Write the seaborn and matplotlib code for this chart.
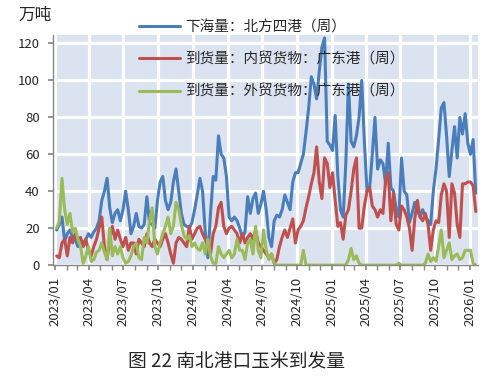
import pandas as pd
import matplotlib
matplotlib.use('Agg')
import matplotlib.pyplot as plt
import matplotlib.dates as mdates
import seaborn as sns

# weekly data, 2023-01 .. 2026-01 (万吨)
dates = pd.date_range('2023-01-06', periods=159, freq='7D')

north_ship = [
    19, 22, 26, 13, 17, 19, 15, 14, 10, 12,
    12, 14, 17, 15, 18, 20, 24, 35, 40, 47,
    31, 23, 28, 30, 24, 30, 40, 30, 17, 21,
    28, 21, 20, 22, 37, 23, 22, 20, 35, 45,
    48, 35, 30, 34, 45, 52, 40, 28, 22, 21,
    20, 23, 30, 38, 47, 40, 18, 4, 28, 48,
    46, 70, 60, 58, 48, 26, 24, 26, 24, 20,
    15, 18, 37, 28, 36, 39, 28, 33, 40, 30,
    15, 10, 24, 27, 26, 30, 38, 34, 30, 45,
    50, 50, 55, 60, 72, 85, 102, 98, 90, 105,
    118, 123, 67, 65, 62, 81, 48, 30, 26, 55,
    98, 67, 64, 70, 80, 100, 67, 40, 42, 60,
    80, 52, 57, 55, 44, 66, 42, 40, 30, 26,
    58, 40, 38, 23, 28, 34, 30, 26, 30, 26,
    24, 22, 40, 52, 68, 85, 88, 70, 48, 62,
    75, 58, 80, 71, 82, 66, 60, 68, 39,
]

gd_domestic = [
    5, 4, 12, 14, 5, 15, 12, 17, 14, 15,
    10, 14, 8, 5, 10, 14, 20, 26, 10, 3,
    14, 21, 14, 19, 14, 10, 15, 8, 12, 12,
    6, 14, 12, 10, 17, 12, 10, 14, 12, 10,
    14, 17, 12, 6, 1, 12, 15, 14, 12, 10,
    21, 14, 17, 20, 21, 17, 14, 10, 6, 17,
    21, 31, 34, 21, 17, 20, 21, 19, 17, 12,
    17, 12, 15, 17, 14, 19, 12, 10, 8, 6,
    4, 6, 1, 3, 10, 15, 19, 15, 20, 25,
    12, 19, 21, 24, 31, 37, 44, 50, 64, 45,
    36, 58, 55, 42, 50, 35, 21, 23, 14, 27,
    30, 40, 52, 58, 20, 20, 32, 40, 42, 32,
    30, 26, 30, 28, 46, 50, 24, 39, 22, 19,
    32, 30, 26, 20, 8, 25, 35, 26, 24, 28,
    22, 8, 19, 24, 23, 38, 44, 40, 15, 44,
    39, 22, 15, 44, 44, 45, 45, 43, 29,
]

gd_foreign = [
    20, 24, 47, 30, 22, 28, 18, 20, 14, 10,
    1, 5, 10, 2, 3, 7, 8, 12, 7, 3,
    20, 5, 10, 6, 10, 4, 1, 2, 5, 10,
    12, 4, 3, 15, 12, 24, 31, 10, 6, 12,
    17, 21, 26, 17, 21, 34, 30, 22, 16, 14,
    16, 10, 12, 9, 8, 12, 6, 14, 5, 1,
    1, 10, 6, 4, 6, 8, 4, 6, 14, 8,
    8, 3, 12, 14, 6, 21, 8, 4, 19, 8,
    3, 6, 1, 0, 0, 0, 0, 0, 0, 0,
    0, 0, 0, 8, 0, 0, 0, 0, 0, 0,
    0, 0, 0, 0, 0, 0, 0, 0, 0, 0,
    3, 9, 3, 5, 1, 0, 0, 0, 0, 0,
    0, 0, 0, 0, 0, 0, 0, 0, 0, 1,
    0, 0, 0, 0, 0, 0, 0, 0, 0, 1,
    6, 2, 4, 2, 10, 19, 4, 8, 12, 3,
    5, 6, 3, 4, 8, 8, 8, 1, 0,
]

labels = ['下海量：北方四港（周）', '到货量：内贸货物：广东港（周）', '到货量：外贸货物：广东港（周）']
colors = ['#4a7ebb', '#c0504d', '#9bbb59']

sns.set_theme(style='white')
plt.rcParams['font.family'] = ['Noto Sans CJK SC', 'DejaVu Sans']
plt.rcParams['axes.unicode_minus'] = False

df = pd.DataFrame({'date': dates, labels[0]: north_ship,
                   labels[1]: gd_domestic, labels[2]: gd_foreign})
long_df = df.melt(id_vars='date', var_name='series', value_name='value')

fig = plt.figure(figsize=(4.99, 3.82), dpi=100)
ax = fig.add_axes([0.106, 0.306, 0.852, 0.602])
ax.set_facecolor('#dbe3f1')

sns.lineplot(data=long_df, x='date', y='value', hue='series', hue_order=labels,
             palette=colors, linewidth=2.2, ax=ax, legend=False)

ax.set_xlim(pd.Timestamp('2022-12-27'), pd.Timestamp('2026-01-22'))
ax.set_ylim(0, 124.5)
ax.set_yticks(range(0, 121, 20))
ax.xaxis.set_major_locator(mdates.MonthLocator(bymonth=[1, 4, 7, 10]))
ax.xaxis.set_minor_locator(mdates.MonthLocator())
ax.xaxis.set_major_formatter(mdates.DateFormatter('%Y/%m'))
ax.set_xlabel('')
ax.set_ylabel('')

ax.set_axisbelow(True)
ax.grid(True, which='major', color='white', linewidth=2.3)
for side in ['top', 'right']:
    ax.spines[side].set_visible(False)
for side in ['left', 'bottom']:
    ax.spines[side].set_color('#888888')
    ax.spines[side].set_linewidth(1)

ax.tick_params(axis='x', which='both', bottom=True, direction='out', length=3.5,
               color='#888888', labelsize=9.5, pad=5, labelrotation=90)
ax.tick_params(axis='y', left=True, direction='out', length=3.5, color='#888888',
               labelsize=9.5, pad=6)

handles = ax.get_lines()[:3]
fig.legend(handles, labels, loc='upper left', bbox_to_anchor=(0.255, 0.978),
           frameon=False, fontsize=10.5, labelspacing=1.25, handlelength=2.8,
           handletextpad=0.35, borderpad=0.3)

fig.text(0.036, 0.96, '万吨', fontsize=12, va='center', ha='left')
fig.text(0.474, 0.055, '图 22 南北港口玉米到发量', fontsize=13.5, va='center', ha='center')

fig.savefig('out.png', dpi=100)
